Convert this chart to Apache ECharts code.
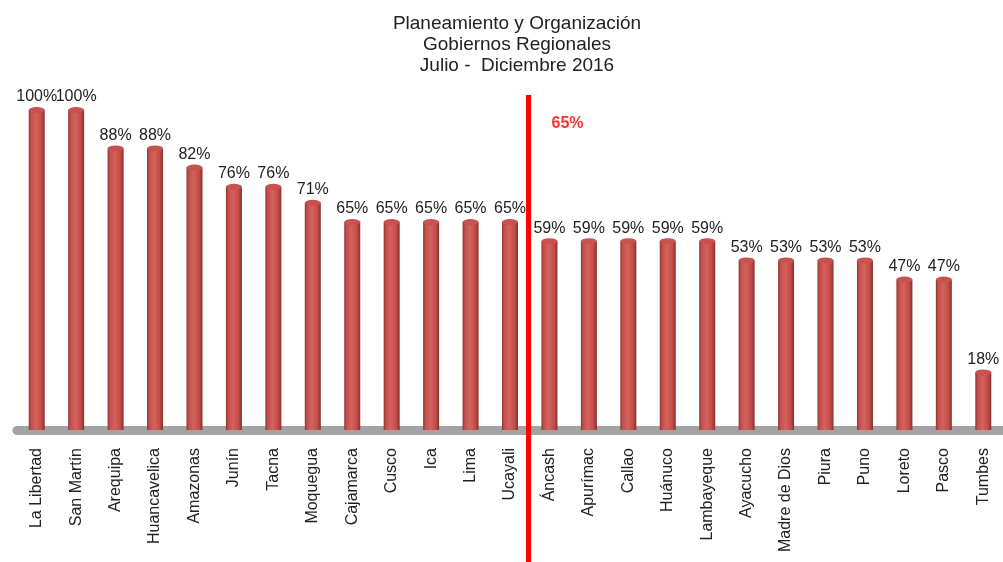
<!DOCTYPE html>
<html>
<head>
<meta charset="utf-8">
<script src="https://cdn.jsdelivr.net/npm/echarts@6/dist/echarts.min.js"></script>
<style>
  html, body { margin: 0; padding: 0; background: #fff; }
  #chart { width: 1003px; height: 562px; }
</style>
</head>
<body>
<div id="chart"></div>
<script>
const regions = ['La Libertad', 'San Martín', 'Arequipa', 'Huancavelica', 'Amazonas', 'Junín', 'Tacna',
  'Moquegua', 'Cajamarca', 'Cusco', 'Ica', 'Lima', 'Ucayali', 'Áncash', 'Apurímac', 'Callao',
  'Huánuco', 'Lambayeque', 'Ayacucho', 'Madre de Dios', 'Piura', 'Puno', 'Loreto', 'Pasco', 'Tumbes'];
const avance = [100, 100, 88, 88, 82, 76, 76, 71, 65, 65, 65, 65, 65, 59, 59, 59, 59, 59, 53, 53, 53, 53, 47, 47, 18];
const promedio = 65;
// red divider sits between the last 65% bar and the first 59% bar
const dividerAfter = 12;

const font = '"Liberation Sans", Arial, sans-serif';
const chart = echarts.init(document.getElementById('chart'));

const option = {
  animation: false,
  backgroundColor: '#fff',
  title: {
    text: 'Planeamiento y Organización\nGobiernos Regionales\nJulio -  Diciembre 2016',
    left: 512,
    textAlign: 'center',
    top: 8,
    textStyle: {
      fontFamily: font,
      fontSize: 19,
      fontWeight: 'normal',
      color: '#222',
      lineHeight: 21
    }
  },
  grid: {
    left: 17,
    right: -4,
    top: 110,
    bottom: 132
  },
  xAxis: {
    type: 'category',
    data: regions,
    axisTick: { show: false },
    axisLine: {
      lineStyle: { color: '#a3a3a3', width: 9 }
    },
    axisLabel: {
      interval: 0,
      rotate: 90,
      margin: 18,
      padding: [0, 0, 12, 0],
      fontFamily: font,
      fontSize: 16,
      color: '#222'
    }
  },
  yAxis: {
    type: 'value',
    min: 0,
    max: 100,
    show: false
  },
  series: [
    {
      name: 'Avance',
      type: 'bar',
      data: avance,
      barWidth: 16,
      itemStyle: {
        color: new echarts.graphic.LinearGradient(0, 0, 1, 0, [
          { offset: 0, color: '#8f3532' },
          { offset: 0.15, color: '#c4504c' },
          { offset: 0.45, color: '#d6625e' },
          { offset: 0.8, color: '#c04b47' },
          { offset: 1, color: '#83302d' }
        ])
      },
      label: {
        show: true,
        position: 'top',
        distance: 5,
        formatter: '{c}%',
        fontFamily: font,
        fontSize: 16,
        color: '#222'
      },
      z: 2
    },
    {
      name: 'tapa',
      type: 'pictorialBar',
      data: avance,
      symbol: 'circle',
      symbolSize: [16, 6],
      symbolPosition: 'end',
      symbolOffset: [0, '-50%'],
      itemStyle: { color: '#c9524e' },
      silent: true,
      z: 3
    }
  ]
};

chart.setOption(option);

const x0 = chart.convertToPixel({ xAxisIndex: 0 }, dividerAfter);
const x1 = chart.convertToPixel({ xAxisIndex: 0 }, dividerAfter + 1);
const lineX = x0 + (x1 - x0) * 0.47;

chart.setOption({
  graphic: [
    {
      type: 'line',
      shape: { x1: lineX, y1: 95, x2: lineX, y2: 562 },
      style: { stroke: '#ff0000', lineWidth: 5 },
      z: 10
    },
    {
      type: 'text',
      x: lineX + 39,
      y: 124,
      style: {
        text: promedio + '%',
        fill: '#ff3030',
        font: 'bold 16px ' + font,
        align: 'center',
        verticalAlign: 'middle'
      },
      z: 10
    }
  ]
});
</script>
</body>
</html>
